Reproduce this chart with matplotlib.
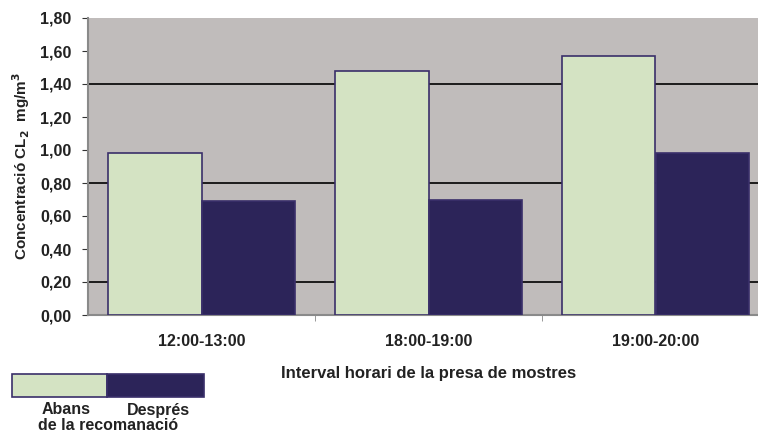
import numpy as np
import matplotlib.pyplot as plt
from matplotlib.patches import Rectangle

plt.rcParams['font.family'] = ['Liberation Sans', 'DejaVu Sans']

intervals = ['12:00-13:00', '18:00-19:00', '19:00-20:00']
abans = [0.98, 1.48, 1.57]
despres = [0.69, 0.70, 0.98]
grid_vals = [0.2, 0.8, 1.4]

color_abans = '#d4e3c3'
color_despres = '#2c2459'
edge = '#3a2f6a'
txt = '#222222'

fig = plt.figure(figsize=(7.58, 4.38), dpi=100)
W, H = 758, 438
ax = fig.add_axes([88 / W, (H - 315) / H, 681 / W, 297 / H])
ax.set_facecolor('#c0bcbb')

x = np.arange(len(intervals))
w = 0.41
ax.bar(x - w / 2, abans, w, color=color_abans, edgecolor=edge, linewidth=1.2, zorder=3)
ax.bar(x + w / 2, despres, w, color=color_despres, edgecolor=edge, linewidth=1.2, zorder=3)

for g in grid_vals:
    ax.axhline(g, color='black', linewidth=1.2, zorder=1)

ax.set_xlim(-0.5, 2.5)
ax.set_ylim(0, 1.8)
yt = np.arange(0, 1.81, 0.2)
ax.set_yticks(yt)
ax.set_yticklabels([f'{v:.2f}'.replace('.', ',') for v in yt],
                   fontsize=11.5, fontweight='bold', color=txt)
ax.set_xticks(x)
ax.set_xticklabels(intervals, fontsize=11.5, fontweight='bold', color=txt)
ax.set_xticks([0.5, 1.5], minor=True)
ax.tick_params(axis='x', which='major', length=0, pad=14)
ax.tick_params(axis='x', which='minor', length=4, color='#888888')
ax.tick_params(axis='y', length=4, color='#333333', pad=8)

for s in ['top', 'right']:
    ax.spines[s].set_visible(False)
for s in ['left', 'bottom']:
    ax.spines[s].set_color('#8a8a8a')
    ax.spines[s].set_linewidth(1.5)

ax.set_xlabel('Interval horari de la presa de mostres', fontsize=12,
              fontweight='bold', color=txt, labelpad=12)
ax.set_ylabel(r'Concentració CL$_\mathbf{2}$  mg/m$^\mathbf{3}$', fontsize=11,
              fontweight='bold', color=txt, labelpad=6)

# llegenda dibuixada a sota
fig.patches.append(Rectangle((12 / W, (H - 397) / H), 95 / W, 23 / H, transform=fig.transFigure,
                             facecolor=color_abans, edgecolor=edge, linewidth=1.2))
fig.patches.append(Rectangle((107 / W, (H - 397) / H), 97 / W, 23 / H, transform=fig.transFigure,
                             facecolor=color_despres, edgecolor=edge, linewidth=1.2))
fig.text(66 / W, (H - 410) / H, 'Abans', ha='center', va='center', fontsize=11.5,
         fontweight='bold', color=txt)
fig.text(158 / W, (H - 410) / H, 'Després', ha='center', va='center', fontsize=11.5,
         fontweight='bold', color=txt)
fig.text(108 / W, (H - 425) / H, 'de la recomanació', ha='center', va='center', fontsize=11.5,
         fontweight='bold', color=txt)

fig.savefig('out.png', dpi=100)
